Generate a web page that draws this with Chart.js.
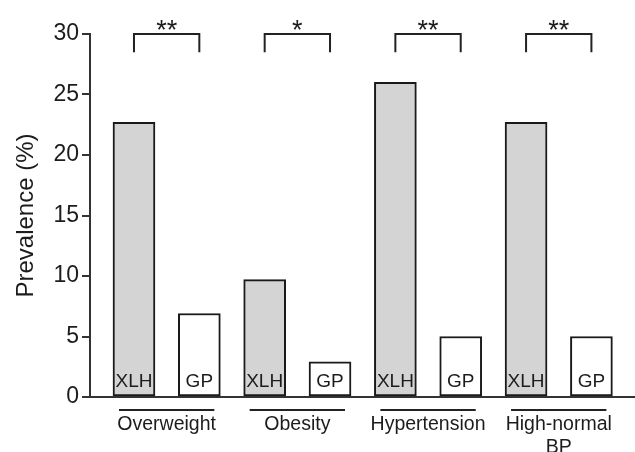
<!DOCTYPE html>
<html>
<head>
<meta charset="utf-8">
<title>Prevalence</title>
<script src="https://cdn.jsdelivr.net/npm/chart.js@4.4.1/dist/chart.umd.min.js"></script>
<style>
  html, body { margin: 0; padding: 0; background: #fff; }
  #wrap { position: relative; width: 635px; height: 452px; }
</style>
</head>
<body>
<div id="wrap"><canvas id="c"></canvas></div>
<script>
// data
const groups = ['Overweight', 'Obesity', 'Hypertension', ['High-normal', 'BP']];
const seriesNames = ['XLH', 'GP'];
const xlh = [22.7, 9.7, 26.0, 22.7];
const gp = [6.9, 2.9, 5.0, 5.0];
const stars = ['**', '*', '**', '**'];
const yMax = 30;
const yStep = 5;

const FONT = "'Liberation Sans', Arial, sans-serif";
const INK = '#1c1c1c';

// bar slot: XLH at 2i+1, GP at 2i+2
const xlhPts = xlh.map((v, i) => ({ x: 2 * i + 1, y: v }));
const gpPts = gp.map((v, i) => ({ x: 2 * i + 2, y: v }));

const annot = {
  id: 'annot',
  afterDraw(chart) {
    const ctx = chart.ctx;
    const xs = chart.scales.x, ys = chart.scales.y;
    const y0 = ys.getPixelForValue(0);
    ctx.save();
    // x axis line
    ctx.strokeStyle = '#333';
    ctx.lineWidth = 2;
    ctx.beginPath();
    ctx.moveTo(chart.chartArea.left - 1, y0);
    ctx.lineTo(chart.width, y0);
    ctx.stroke();

    ctx.fillStyle = INK;
    groups.forEach((g, i) => {
      const xa = xs.getPixelForValue(2 * i + 1);
      const xb = xs.getPixelForValue(2 * i + 2);
      // labels in bars
      ctx.font = '19px ' + FONT;
      ctx.textAlign = 'center';
      ctx.textBaseline = 'alphabetic';
      ctx.fillText(seriesNames[0], xa, y0 - 10);
      ctx.fillText(seriesNames[1], xb, y0 - 10);
      // group underline
      ctx.strokeStyle = '#222';
      ctx.lineWidth = 2;
      ctx.beginPath();
      ctx.moveTo(xa - 15, y0 + 13);
      ctx.lineTo(xb + 15, y0 + 13);
      ctx.stroke();
      // group name
      ctx.font = '19.5px ' + FONT;
      const lines = Array.isArray(g) ? g : [g];
      lines.forEach((t, k) => ctx.fillText(t, (xa + xb) / 2, y0 + 33 + k * 23));
      // significance bracket
      const yt = ys.getPixelForValue(yMax);
      const yb = ys.getPixelForValue(28.5);
      ctx.lineWidth = 2;
      ctx.beginPath();
      ctx.moveTo(xa, yb);
      ctx.lineTo(xa, yt);
      ctx.lineTo(xb, yt);
      ctx.lineTo(xb, yb);
      ctx.stroke();
      ctx.font = '27px ' + FONT;
      ctx.fillText(stars[i], (xa + xb) / 2, yt + 5);
    });
    ctx.restore();
  }
};

new Chart(document.getElementById('c'), {
  type: 'bar',
  data: {
    datasets: [
      {
        label: seriesNames[0],
        data: xlhPts,
        backgroundColor: '#d4d4d4',
        borderColor: '#1a1a1a',
        borderWidth: 2,
        borderSkipped: false,
        barThickness: 42,
        grouped: false
      },
      {
        label: seriesNames[1],
        data: gpPts,
        backgroundColor: '#ffffff',
        borderColor: '#1a1a1a',
        borderWidth: 2,
        borderSkipped: false,
        barThickness: 42,
        grouped: false
      }
    ]
  },
  options: {
    responsive: true,
    maintainAspectRatio: false,
    animation: false,
    layout: { padding: { top: 34, bottom: 55, left: 0, right: 0 } },
    plugins: {
      legend: { display: false },
      tooltip: { enabled: false }
    },
    scales: {
      x: {
        type: 'linear',
        display: false,
        offset: false,
        min: 0.327,
        max: 8.667
      },
      y: {
        min: 0,
        max: yMax,
        afterFit(scale) { scale.width = 90; },
        ticks: {
          stepSize: yStep,
          color: INK,
          padding: 3,
          font: { size: 23, family: FONT }
        },
        grid: {
          display: true,
          drawOnChartArea: false,
          drawTicks: true,
          tickLength: 8,
          tickColor: '#333',
          lineWidth: 2
        },
        border: { display: true, color: '#333', width: 2 },
        title: {
          display: true,
          text: 'Prevalence (%)',
          color: INK,
          padding: { top: 12, bottom: 0 },
          font: { size: 24, family: FONT }
        }
      }
    }
  },
  plugins: [annot]
});
</script>
</body>
</html>
